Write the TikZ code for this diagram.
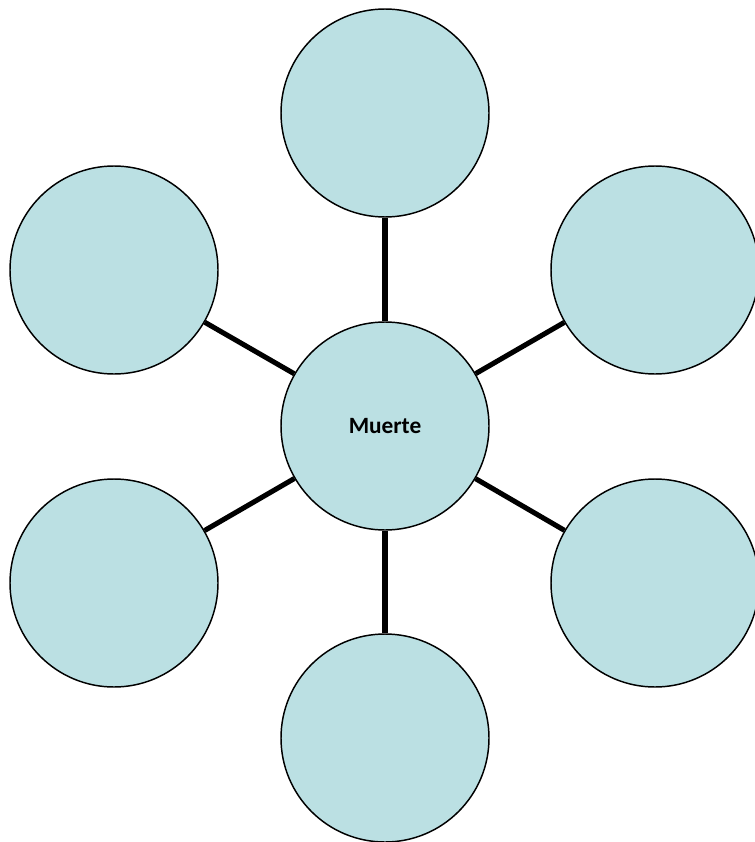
\documentclass[tikz,border=0pt]{standalone}
\usepackage{fontspec}
\setmainfont{Carlito}
\usepackage{tikz}

\definecolor{bubble}{RGB}{187,224,227}

\begin{document}
\begin{tikzpicture}[x=0.75pt, y=-0.75pt,
        bubble/.style={circle, draw, line width=1.1pt, fill=bubble, minimum size=156pt, inner sep=0pt},
        spoke/.style={line width=3.8pt}]
        \useasboundingbox (0,0) rectangle (755,842);
        \begin{scope}
        \clip (0,0) rectangle (755,842);
        \node[bubble] (muerte) at (385,426) {\fontsize{17.5}{19}\selectfont\textbf{Muerte}};
        \node[bubble] (top) at (385,113) {};
        \node[bubble] (upleft) at (114,270) {};
        \node[bubble] (upright) at (655,270) {};
        \node[bubble] (lowleft) at (114,583) {};
        \node[bubble] (lowright) at (655,583) {};
        \node[bubble] (bottom) at (385,738) {};

        \draw[spoke] (muerte) -- (top);
        \draw[spoke] (muerte) -- (upleft);
        \draw[spoke] (muerte) -- (upright);
        \draw[spoke] (muerte) -- (lowleft);
        \draw[spoke] (muerte) -- (lowright);
        \draw[spoke] (muerte) -- (bottom);
        \end{scope}
    \end{tikzpicture}
\end{document}
